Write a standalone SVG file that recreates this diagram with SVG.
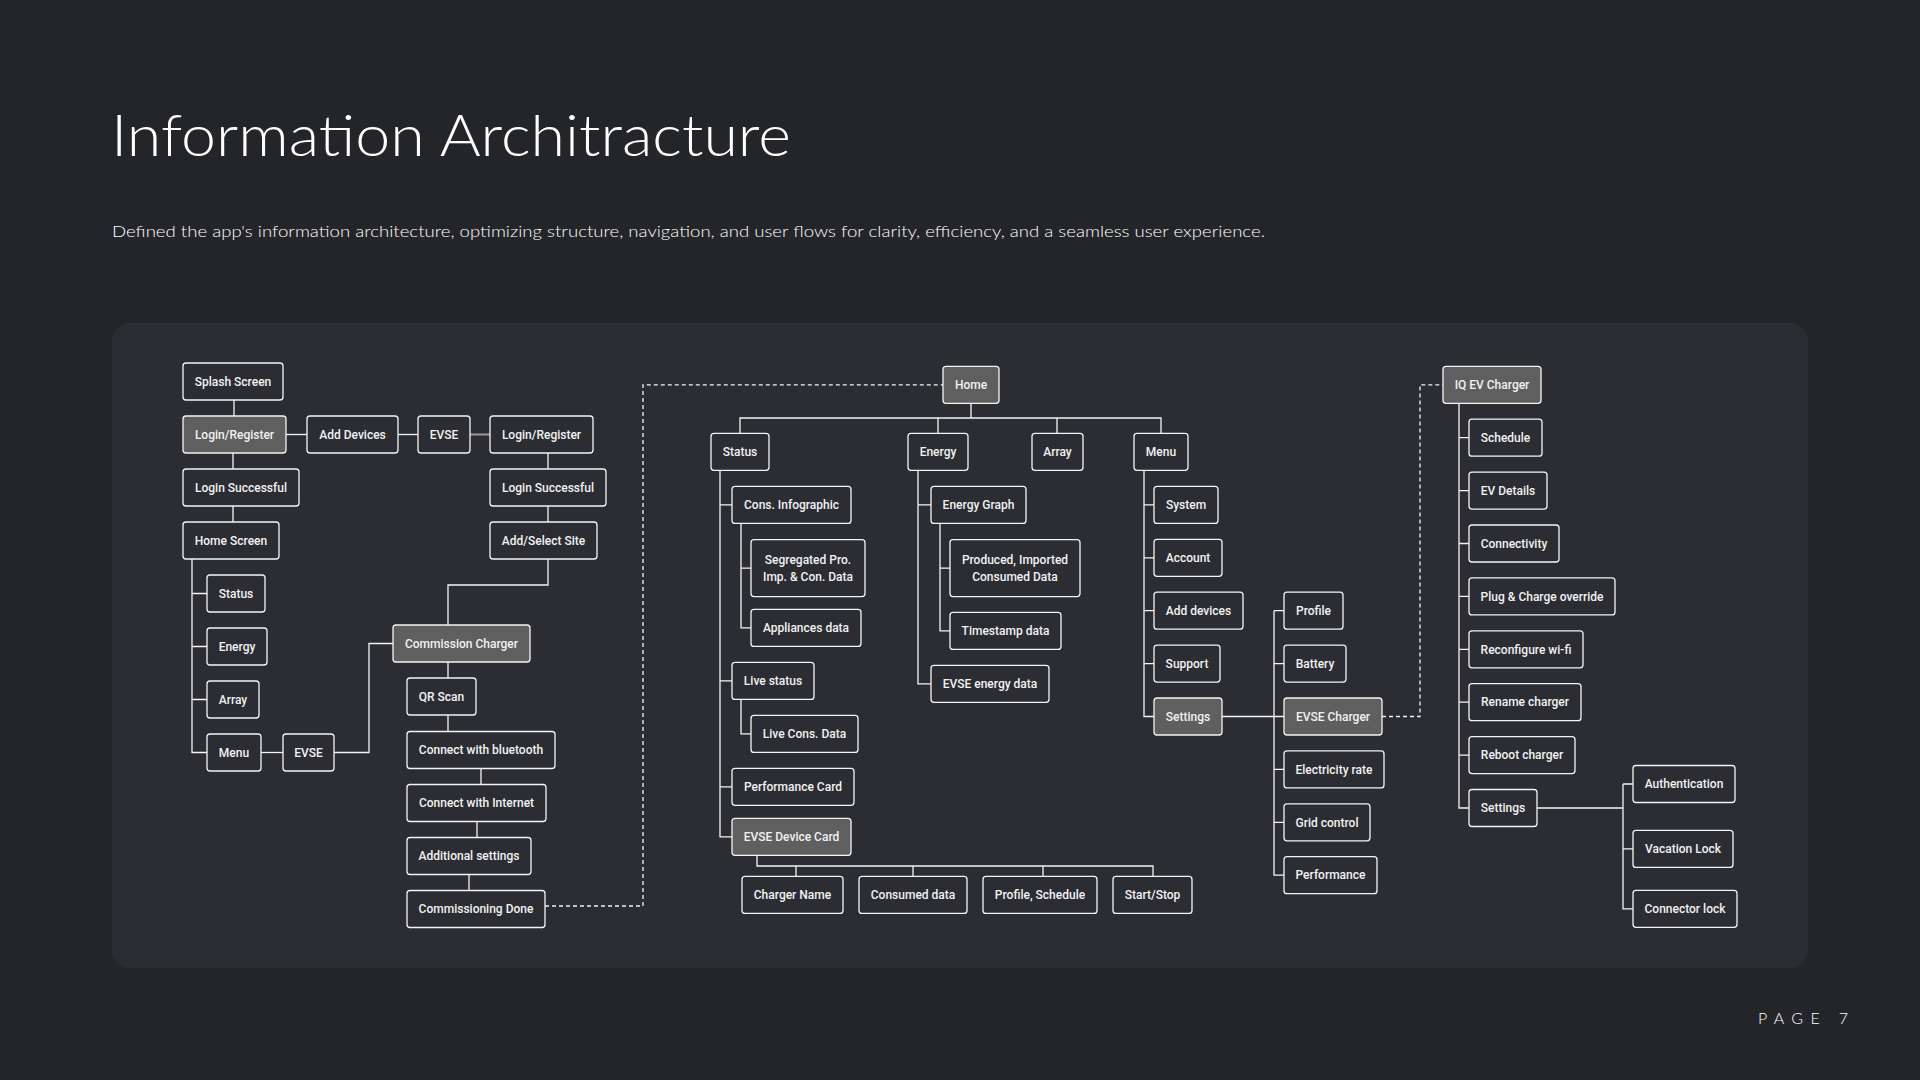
<svg xmlns="http://www.w3.org/2000/svg" width="1920" height="1080" viewBox="0 0 1920 1080">
<style>
.n rect{fill:#2b2d32;stroke:#f4f4f4;stroke-width:1.3}
.g rect{fill:#5f5f5f;stroke:#f4f4f4;stroke-width:1.3}
.n text,.g text{fill:#f2f2f2;font-family:Roboto,"Liberation Sans",sans-serif;font-weight:500;font-size:12px;text-anchor:middle}
.c path{fill:none;stroke:#f4f4f4;stroke-width:1.3}
.c .d{stroke-dasharray:4 3}
.c .gr{stroke:#9a9a9a;stroke-width:2}
.title{fill:#ffffff;font-family:Lato,"Liberation Sans",sans-serif;font-weight:300}
</style>
<rect x="0" y="0" width="1920" height="1080" fill="#242529"/>
<text class="title" x="111" y="156" font-size="58" textLength="680" lengthAdjust="spacingAndGlyphs">Information Architracture</text>
<text class="title" x="112" y="237" font-size="16" fill="#e6e6e6" textLength="1153" lengthAdjust="spacingAndGlyphs">Defined the app's information architecture, optimizing structure, navigation, and user flows for clarity, efficiency, and a seamless user experience.</text>
<text class="title" x="1758" y="1024" font-size="16" font-weight="400" fill="#dcdcdc" textLength="90" lengthAdjust="spacing">PAGE 7</text>
<rect x="112" y="323" width="1696" height="645" rx="18" fill="#2b2d32"/>

<g id="connectors" class="c">
<path d="M234 400V416"/>
<path d="M286 434.5H307"/>
<path d="M398 434.5H418"/>
<path class="gr" d="M470 434.5H490"/>
<path d="M233 453V469"/>
<path d="M233 506V522"/>
<path d="M548 453V469"/>
<path d="M548 506V522"/>
<path d="M548 559V585H448V625"/>
<path d="M192 559V752.5H207M192 593.5H207M192 646.5H207M192 699.5H207"/>
<path d="M261 752.5H283"/>
<path d="M334 752.5H369V643.5H393"/>
<path d="M448 662V678"/>
<path d="M448 715V731.5"/>
<path d="M481 768.5V784.5"/>
<path d="M477 821.5V837.5"/>
<path d="M469 874.5V890.5"/>
<path class="d" d="M545 906H643V384.8H943"/>
<path d="M971 403.3V418M740 433.3V418H1161V433.3M938 418V433.3M1057 418V433.3"/>
<path d="M720 470.3V836.8H732M720 504.9H732M720 680.9H732M720 786.8H732"/>
<path d="M741 523.4V627.9H751M741 568.1H751"/>
<path d="M741 699.4V733.9H751"/>
<path d="M757 855.3V866H1153V876.4M796 866V876.4M913 866V876.4M1043 866V876.4"/>
<path d="M918 470.3V683.8H931M918 504.9H931"/>
<path d="M940 523.4V630.9H950M940 568.1H950"/>
<path d="M1144 470.3V716.5H1154M1144 504.9H1154M1144 557.8H1154M1144 610.7H1154M1144 663.6H1154"/>
<path d="M1222 716.5H1284M1274 610.7V875.2H1284M1274 610.7H1284M1274 663.6H1284M1274 769.4H1284M1274 822.3H1284"/>
<path class="d" d="M1382 716.5H1420V384.8H1443"/>
<path d="M1459 403.3V808H1469M1459 437.7H1469M1459 490.6H1469M1459 543.5H1469M1459 596.4H1469M1459 649.3H1469M1459 702.2H1469M1459 755.1H1469"/>
<path d="M1537 808H1623M1623 784V908.8H1633M1623 784H1633M1623 848.9H1633"/>
</g>

<g id="splash" class="n"><rect x="183" y="363" width="100" height="37" rx="3"/><text x="233" y="385.7">Splash Screen</text></g>
<g id="login1" class="g"><rect x="183" y="416" width="103" height="37" rx="3"/><text x="234.5" y="438.7">Login/Register</text></g>
<g id="adddevices" class="n"><rect x="307" y="416" width="91" height="37" rx="3"/><text x="352.5" y="438.7">Add Devices</text></g>
<g id="evse1" class="n"><rect x="418" y="416" width="52" height="37" rx="3"/><text x="444" y="438.7">EVSE</text></g>
<g id="login2" class="n"><rect x="490" y="416" width="103" height="37" rx="3"/><text x="541.5" y="438.7">Login/Register</text></g>
<g id="loginok1" class="n"><rect x="183" y="469" width="116" height="37" rx="3"/><text x="241" y="491.7">Login Successful</text></g>
<g id="loginok2" class="n"><rect x="490" y="469" width="116" height="37" rx="3"/><text x="548" y="491.7">Login Successful</text></g>
<g id="homescreen" class="n"><rect x="183" y="522" width="96" height="37" rx="3"/><text x="231" y="544.7">Home Screen</text></g>
<g id="addsite" class="n"><rect x="490" y="522" width="107" height="37" rx="3"/><text x="543.5" y="544.7">Add/Select Site</text></g>
<g id="hs-status" class="n"><rect x="207" y="575" width="58" height="37" rx="3"/><text x="236" y="597.7">Status</text></g>
<g id="hs-energy" class="n"><rect x="207" y="628" width="60" height="37" rx="3"/><text x="237" y="650.7">Energy</text></g>
<g id="hs-array" class="n"><rect x="207" y="681" width="52" height="37" rx="3"/><text x="233" y="703.7">Array</text></g>
<g id="hs-menu" class="n"><rect x="207" y="734" width="54" height="37" rx="3"/><text x="234" y="756.7">Menu</text></g>
<g id="evse2" class="n"><rect x="283" y="734" width="51" height="37" rx="3"/><text x="308.5" y="756.7">EVSE</text></g>
<g id="commission" class="g"><rect x="393" y="625" width="137" height="37" rx="3"/><text x="461.5" y="647.7">Commission Charger</text></g>
<g id="qr" class="n"><rect x="407" y="678" width="69" height="37" rx="3"/><text x="441.5" y="700.7">QR Scan</text></g>
<g id="bluetooth" class="n"><rect x="407" y="731.5" width="148" height="37" rx="3"/><text x="481" y="754.2">Connect with bluetooth</text></g>
<g id="internet" class="n"><rect x="407" y="784.5" width="139" height="37" rx="3"/><text x="476.5" y="807.2">Connect with Internet</text></g>
<g id="addl" class="n"><rect x="407" y="837.5" width="124" height="37" rx="3"/><text x="469" y="860.2">Additional settings</text></g>
<g id="done" class="n"><rect x="407" y="890.5" width="138" height="37" rx="3"/><text x="476" y="913.2">Commissioning Done</text></g>

<g id="home" class="g"><rect x="943" y="366.3" width="56" height="37" rx="3"/><text x="971" y="389">Home</text></g>
<g id="status" class="n"><rect x="711" y="433.3" width="58" height="37" rx="3"/><text x="740" y="456">Status</text></g>
<g id="energy" class="n"><rect x="908" y="433.3" width="60" height="37" rx="3"/><text x="938" y="456">Energy</text></g>
<g id="array" class="n"><rect x="1032" y="433.3" width="51" height="37" rx="3"/><text x="1057.5" y="456">Array</text></g>
<g id="menu" class="n"><rect x="1134" y="433.3" width="54" height="37" rx="3"/><text x="1161" y="456">Menu</text></g>

<g id="cons-info" class="n"><rect x="732" y="486.4" width="119" height="37" rx="3"/><text x="791.5" y="509.1">Cons. Infographic</text></g>
<g id="segregated" class="n"><rect x="751" y="539.6" width="114" height="57" rx="3"/><text x="808" y="563.8">Segregated Pro.</text><text x="808" y="580.8">Imp. &amp; Con. Data</text></g>
<g id="appliances" class="n"><rect x="751" y="609.4" width="110" height="37" rx="3"/><text x="806" y="632.1">Appliances data</text></g>
<g id="live-status" class="n"><rect x="732" y="662.4" width="82" height="37" rx="3"/><text x="773" y="685.1">Live status</text></g>
<g id="live-cons" class="n"><rect x="751" y="715.4" width="107" height="37" rx="3"/><text x="804.5" y="738.1">Live Cons. Data</text></g>
<g id="perf-card" class="n"><rect x="732" y="768.3" width="122" height="37" rx="3"/><text x="793" y="791">Performance Card</text></g>
<g id="evse-card" class="g"><rect x="732" y="818.3" width="119" height="37" rx="3"/><text x="791.5" y="841">EVSE Device Card</text></g>
<g id="charger-name" class="n"><rect x="742" y="876.4" width="101" height="37" rx="3"/><text x="792.5" y="899.1">Charger Name</text></g>
<g id="consumed" class="n"><rect x="859" y="876.4" width="108" height="37" rx="3"/><text x="913" y="899.1">Consumed data</text></g>
<g id="profile-schedule" class="n"><rect x="983" y="876.4" width="114" height="37" rx="3"/><text x="1040" y="899.1">Profile, Schedule</text></g>
<g id="startstop" class="n"><rect x="1113" y="876.4" width="79" height="37" rx="3"/><text x="1152.5" y="899.1">Start/Stop</text></g>

<g id="energy-graph" class="n"><rect x="931" y="486.4" width="95" height="37" rx="3"/><text x="978.5" y="509.1">Energy Graph</text></g>
<g id="produced" class="n"><rect x="950" y="539.6" width="130" height="57" rx="3"/><text x="1015" y="563.8">Produced, Imported</text><text x="1015" y="580.8">Consumed Data</text></g>
<g id="timestamp" class="n"><rect x="950" y="612.4" width="111" height="37" rx="3"/><text x="1005.5" y="635.1">Timestamp data</text></g>
<g id="evse-energy" class="n"><rect x="931" y="665.3" width="118" height="37" rx="3"/><text x="990" y="688">EVSE energy data</text></g>

<g id="system" class="n"><rect x="1154" y="486.4" width="64" height="37" rx="3"/><text x="1186" y="509.1">System</text></g>
<g id="account" class="n"><rect x="1154" y="539.3" width="68" height="37" rx="3"/><text x="1188" y="562">Account</text></g>
<g id="add-devices2" class="n"><rect x="1154" y="592.2" width="89" height="37" rx="3"/><text x="1198.5" y="614.9">Add devices</text></g>
<g id="support" class="n"><rect x="1154" y="645.1" width="66" height="37" rx="3"/><text x="1187" y="667.8">Support</text></g>
<g id="settings" class="g"><rect x="1154" y="698" width="68" height="37" rx="3"/><text x="1188" y="720.7">Settings</text></g>

<g id="profile" class="n"><rect x="1284" y="592.2" width="59" height="37" rx="3"/><text x="1313.5" y="614.9">Profile</text></g>
<g id="battery" class="n"><rect x="1284" y="645.1" width="62" height="37" rx="3"/><text x="1315" y="667.8">Battery</text></g>
<g id="evse-charger" class="g"><rect x="1284" y="698" width="98" height="37" rx="3"/><text x="1333" y="720.7">EVSE Charger</text></g>
<g id="electricity" class="n"><rect x="1284" y="750.9" width="100" height="37" rx="3"/><text x="1334" y="773.6">Electricity rate</text></g>
<g id="grid" class="n"><rect x="1284" y="803.8" width="86" height="37" rx="3"/><text x="1327" y="826.5">Grid control</text></g>
<g id="performance" class="n"><rect x="1284" y="856.7" width="93" height="37" rx="3"/><text x="1330.5" y="879.4">Performance</text></g>

<g id="iq" class="g"><rect x="1443" y="366.3" width="98" height="37" rx="3"/><text x="1492" y="389">IQ EV Charger</text></g>
<g id="schedule" class="n"><rect x="1469" y="419.2" width="73" height="37" rx="3"/><text x="1505.5" y="441.9">Schedule</text></g>
<g id="ev-details" class="n"><rect x="1469" y="472.1" width="78" height="37" rx="3"/><text x="1508" y="494.8">EV Details</text></g>
<g id="connectivity" class="n"><rect x="1469" y="525" width="90" height="37" rx="3"/><text x="1514" y="547.7">Connectivity</text></g>
<g id="plug" class="n"><rect x="1469" y="577.9" width="146" height="37" rx="3"/><text x="1542" y="600.6">Plug &amp; Charge override</text></g>
<g id="wifi" class="n"><rect x="1469" y="630.8" width="114" height="37" rx="3"/><text x="1526" y="653.5">Reconfigure wi-fi</text></g>
<g id="rename" class="n"><rect x="1469" y="683.7" width="112" height="37" rx="3"/><text x="1525" y="706.4">Rename charger</text></g>
<g id="reboot" class="n"><rect x="1469" y="736.6" width="106" height="37" rx="3"/><text x="1522" y="759.3">Reboot charger</text></g>
<g id="iq-settings" class="n"><rect x="1469" y="789.5" width="68" height="37" rx="3"/><text x="1503" y="812.2">Settings</text></g>
<g id="auth" class="n"><rect x="1633" y="765.5" width="102" height="37" rx="3"/><text x="1684" y="788.2">Authentication</text></g>
<g id="vacation" class="n"><rect x="1633" y="830.4" width="100" height="37" rx="3"/><text x="1683" y="853.1">Vacation Lock</text></g>
<g id="connector-lock" class="n"><rect x="1633" y="890.3" width="104" height="37" rx="3"/><text x="1685" y="913">Connector lock</text></g>
</svg>
